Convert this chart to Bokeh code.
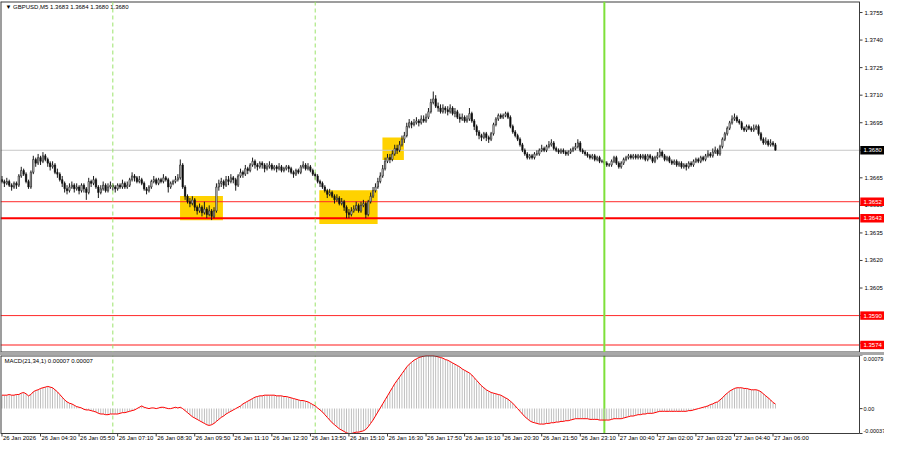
from bokeh.plotting import figure
from bokeh.layouts import column
from bokeh.models import ColumnDataSource, Span, Spacer, Range1d
from bokeh.core.properties import value
from bokeh.embed import file_html
from bokeh.resources import INLINE

# ---------------- data (GBPUSD M5, prices as pips above 1.3600) ----------------
BASE = 1.3600
PIP = 0.0001
first_open_pips = 64

close_pips = [
    63, 62, 63, 61, 60, 62, 61, 66, 69, 67,
    63, 60, 68, 75, 73, 76, 74, 77, 75, 73,
    71, 72, 68, 67, 64, 62, 59, 58, 60, 61,
    59, 60, 58, 61, 59, 57, 63, 62, 64, 60,
    57, 59, 61, 58, 60, 61, 60, 59, 61, 60,
    62, 60, 61, 64, 66, 65, 63, 64, 62, 59,
    58, 60, 63, 64, 62, 64, 63, 65, 64, 60,
    62, 63, 64, 65, 72, 60, 55, 52, 51, 53,
    49, 47, 49, 46, 48, 45, 47, 44, 47, 60,
    62, 63, 61, 64, 63, 65, 64, 61, 66, 68,
    67, 70, 69, 72, 74, 72, 71, 73, 72, 70,
    71, 72, 70, 71, 70, 71, 69, 70, 71, 70,
    68, 67, 69, 68, 71, 72, 70, 71, 69, 67,
    66, 63, 62, 60, 58, 56, 57, 55, 53, 54,
    51, 52, 49, 46, 45, 47, 48, 50, 47, 50,
    51, 45, 52, 55, 58, 60, 63, 66, 70, 74,
    76, 75, 78, 81, 80, 83, 86, 88, 93, 95,
    94, 95, 96, 95, 97, 96, 98, 101, 106, 108,
    104, 103, 101, 103, 102, 101, 103, 100, 101, 98,
    97, 98, 96, 97, 100, 96, 93, 90, 88, 87,
    89, 87, 86, 89, 94, 97, 99, 98, 99, 100,
    98, 93, 90, 88, 86, 83, 80, 78, 76, 77,
    76, 78, 78, 80, 81, 80, 82, 83, 84, 81,
    80, 79, 80, 79, 78, 79, 80, 81, 82, 84,
    80, 79, 78, 77, 76, 77, 75, 76, 74, 74,
    73, 72, 72, 74, 76, 73, 71, 73, 75, 76,
    77, 76, 77, 76, 77, 76, 77, 75, 77, 76,
    74, 76, 77, 79, 77, 75, 76, 74, 73, 74,
    72, 73, 71, 72, 71, 73, 72, 74, 75, 74,
    76, 75, 77, 78, 77, 79, 80, 78, 82, 86,
    89, 92, 95, 97, 98, 96, 95, 92, 91, 93,
    92, 91, 92, 93, 89, 86, 84, 85, 83, 84,
    83, 80,
]

high_pips = [
    66, 64, 65, 64, 62, 63, 63, 67, 71, 70,
    68, 64, 69, 77, 76, 78, 77, 79, 78, 76,
    74, 74, 73, 70, 68, 66, 63, 61, 62, 63,
    62, 62, 61, 62, 62, 60, 65, 64, 66, 65,
    61, 61, 63, 62, 62, 63, 62, 61, 62, 62,
    64, 63, 63, 65, 68, 67, 66, 66, 65, 63,
    60, 61, 64, 66, 65, 65, 65, 67, 66, 65,
    63, 64, 66, 67, 75, 73, 61, 56, 54, 55,
    54, 50, 51, 50, 52, 49, 50, 48, 49, 62,
    64, 65, 64, 66, 66, 67, 66, 65, 67, 70,
    69, 72, 71, 73, 76, 75, 73, 74, 74, 73,
    73, 74, 73, 72, 72, 73, 72, 71, 72, 72,
    71, 69, 70, 70, 72, 74, 73, 73, 72, 70,
    68, 67, 64, 63, 61, 59, 59, 58, 56, 56,
    55, 54, 53, 50, 48, 49, 50, 52, 51, 52,
    53, 52, 53, 57, 60, 62, 65, 68, 72, 76,
    78, 78, 80, 83, 83, 85, 88, 90, 95, 97,
    96, 97, 98, 97, 99, 99, 100, 103, 108, 112,
    110, 106, 105, 105, 104, 104, 105, 104, 103, 102,
    100, 100, 99, 99, 103, 101, 97, 94, 91, 89,
    90, 90, 88, 90, 95, 98, 100, 100, 100, 101,
    101, 99, 94, 91, 89, 87, 84, 81, 79, 78,
    78, 79, 80, 81, 83, 82, 83, 85, 86, 85,
    82, 81, 81, 81, 80, 80, 81, 82, 84, 86,
    85, 81, 80, 79, 78, 78, 78, 77, 77, 75,
    75, 74, 73, 75, 77, 77, 74, 74, 76, 77,
    78, 78, 78, 78, 78, 78, 78, 78, 78, 78,
    77, 77, 79, 81, 80, 78, 77, 77, 75, 75,
    75, 74, 74, 73, 73, 74, 74, 75, 76, 76,
    77, 77, 78, 80, 79, 81, 82, 81, 83, 87,
    90, 93, 96, 99, 100, 99, 97, 96, 93, 94,
    94, 93, 94, 94, 94, 90, 87, 87, 86, 86,
    85, 84,
]

low_pips = [
    62, 60, 61, 60, 58, 59, 59, 60, 65, 66,
    62, 59, 59, 67, 71, 72, 72, 73, 74, 71,
    69, 70, 67, 65, 63, 60, 57, 56, 57, 59,
    57, 58, 56, 57, 57, 53, 56, 60, 61, 59,
    54, 56, 58, 57, 57, 59, 58, 57, 58, 59,
    59, 59, 59, 60, 63, 63, 62, 62, 61, 58,
    56, 57, 59, 62, 61, 61, 62, 62, 63, 57,
    59, 61, 62, 63, 64, 59, 53, 51, 49, 50,
    47, 45, 46, 44, 45, 43, 44, 42, 43, 46,
    58, 60, 59, 60, 61, 62, 62, 58, 60, 65,
    65, 66, 67, 68, 71, 70, 69, 70, 70, 68,
    69, 70, 69, 69, 68, 69, 68, 68, 69, 68,
    67, 65, 66, 67, 67, 70, 69, 69, 68, 66,
    64, 62, 60, 59, 57, 54, 55, 54, 51, 52,
    50, 50, 47, 43, 43, 44, 46, 47, 46, 46,
    49, 43, 44, 51, 54, 57, 59, 62, 65, 69,
    73, 73, 74, 77, 78, 79, 82, 84, 87, 92,
    92, 93, 94, 93, 94, 95, 95, 97, 100, 105,
    103, 101, 100, 100, 100, 99, 100, 99, 98, 97,
    95, 96, 95, 95, 96, 95, 91, 88, 86, 85,
    86, 85, 84, 85, 88, 93, 96, 97, 97, 98,
    97, 92, 89, 87, 85, 82, 79, 77, 75, 75,
    75, 75, 77, 77, 79, 79, 79, 81, 82, 80,
    79, 78, 78, 78, 77, 77, 78, 79, 80, 81,
    79, 78, 77, 76, 75, 75, 74, 74, 73, 73,
    72, 71, 71, 71, 73, 72, 70, 70, 72, 74,
    75, 75, 75, 75, 75, 75, 75, 74, 74, 75,
    73, 73, 75, 76, 76, 74, 74, 73, 72, 72,
    71, 71, 70, 70, 69, 70, 71, 71, 73, 73,
    73, 74, 74, 76, 76, 76, 78, 77, 77, 81,
    85, 88, 91, 94, 96, 95, 94, 91, 90, 90,
    91, 90, 90, 91, 88, 85, 83, 83, 82, 82,
    82, 80,
]

# MACD(21,34,1) main value, in units of 0.00001
macd_e5 = [
    20, 20, 20, 21, 20, 20, 21, 21, 23, 24,
    22, 19, 21, 25, 27, 28, 30, 31, 32, 33,
    32, 31, 28, 25, 21, 17, 13, 10, 8, 7,
    5, 3, 2, 1, -1, -2, -2, -3, -4, -5,
    -7, -8, -8, -9, -9, -8, -8, -8, -8, -7,
    -6, -6, -5, -4, -3, -2, 0, 2, 4, 2,
    1, 0, 1, 1, 0, 1, 2, 2, 1, 0,
    0, 1, 2, 1, 2, 0, -3, -6, -9, -12,
    -14, -16, -18, -20, -22, -24, -25, -24, -22, -19,
    -16, -13, -11, -8, -6, -4, -2, 0, 2, 4,
    7, 9, 11, 13, 15, 17, 18, 19, 19, 20,
    20, 20, 20, 20, 19, 19, 19, 18, 18, 17,
    16, 15, 14, 13, 12, 12, 11, 10, 8, 6,
    4, 1, -2, -5, -9, -13, -17, -21, -24, -27,
    -30, -32, -34, -36, -37, -37, -36, -35, -35, -34,
    -33, -31, -27, -22, -17, -11, -5, 1, 7, 13,
    19, 25, 31, 37, 42, 47, 52, 57, 62, 66,
    69, 72, 74, 76, 77, 78, 79, 79, 79, 79,
    78, 77, 76, 75, 73, 72, 70, 68, 66, 64,
    62, 59, 57, 55, 53, 50, 46, 42, 38, 34,
    31, 28, 26, 24, 23, 22, 21, 20, 18, 16,
    14, 11, 8, 4, 0, -4, -8, -12, -15, -18,
    -20, -21, -22, -23, -23, -23, -22, -22, -21, -21,
    -20, -20, -19, -19, -18, -18, -17, -16, -15, -15,
    -15, -15, -15, -15, -16, -16, -16, -16, -17, -17,
    -17, -17, -17, -16, -15, -15, -15, -15, -14, -13,
    -12, -11, -11, -10, -9, -9, -8, -8, -7, -7,
    -7, -6, -5, -4, -4, -4, -4, -4, -4, -4,
    -4, -4, -4, -4, -4, -3, -3, -2, -1, 0,
    1, 2, 3, 4, 6, 7, 9, 10, 13, 16,
    20, 23, 26, 28, 30, 31, 31, 31, 30, 30,
    29, 28, 28, 28, 27, 25, 22, 19, 16, 13,
    9, 7,
]

time_tick_bars = [0, 16, 32, 48, 64, 80, 96, 112, 128, 144, 160,
                  176, 192, 208, 224, 240, 256, 272, 288, 304, 320]
time_tick_labels = ["26 Jan 2026", "26 Jan 04:30", "26 Jan 05:50", "26 Jan 07:10",
                    "26 Jan 08:30", "26 Jan 09:50", "26 Jan 11:10", "26 Jan 12:30",
                    "26 Jan 13:50", "26 Jan 15:10", "26 Jan 16:30", "26 Jan 17:50",
                    "26 Jan 19:10", "26 Jan 20:30", "26 Jan 21:50", "26 Jan 23:10",
                    "27 Jan 00:40", "27 Jan 02:00", "27 Jan 03:20", "27 Jan 04:40",
                    "27 Jan 06:00"]

price_ticks = [1.3755, 1.3740, 1.3725, 1.3710, 1.3695, 1.3680, 1.3665,
               1.3650, 1.3635, 1.3620, 1.3605, 1.3590, 1.3575]
price_tick_labels = ["1.3755", "1.3740", "1.3725", "1.3710", "1.3695", "1.3680", "1.3665",
                     "1.3650", "1.3635", "1.3620", "1.3605", "1.3590", "1.3575"]

current_price = 1.3680
current_label = "1.3680"
level_prices = [1.3652, 1.3643, 1.3590, 1.3574]
level_labels = ["1.3652", "1.3643", "1.3590", "1.3574"]

zone_start_bar = [73.9, 131.7, 157.9]
zone_end_bar = [91.7, 155.9, 166.8]
zone_low = [1.36419, 1.36398, 1.36747]
zone_high = [1.36551, 1.36583, 1.36869]

session_bars = [46, 130]
day_bar = 250

macd_max = 0.00079
macd_min = -0.00037
macd_ticks = [0.00079, 0.0, -0.00037]
macd_tick_labels = ["0.00079", "0.00", "-0.00037"]

header_text = "\u25bc GBPUSD,M5  1.3683 1.3684 1.3680 1.3680"
macd_header = "MACD(21,34,1) 0.00007 0.00007"

# ---------------- derived ----------------
n = len(close_pips)
assert len(high_pips) == n and len(low_pips) == n and len(macd_e5) == n
idx = list(range(n))
open_pips = [first_open_pips] + close_pips[:-1]
o = [BASE + v * PIP for v in open_pips]
c = [BASE + v * PIP for v in close_pips]
h = [BASE + max(v, a, b) * PIP for v, a, b in zip(high_pips, open_pips, close_pips)]
l = [BASE + min(v, a, b) * PIP for v, a, b in zip(low_pips, open_pips, close_pips)]
top = [max(a, b) for a, b in zip(o, c)]
bot = [min(a, b) for a, b in zip(o, c)]
fill = ["white" if b > a else "black" for a, b in zip(o, c)]
macd = [v * 1e-5 for v in macd_e5]

# ---------------- geometry / style ----------------
FONT = value("Liberation Sans")
FS = "6px"
W = 884
CHART_PX = 859          # right border of the chart area, px from the left
S = 2.4095              # px per bar
XMIN = -1.48 / S
XCHART = XMIN + CHART_PX / S
XEND = XMIN + W / S
BORDER = "#3c3c3c"

MAIN_H = 351
PMIN, PMAX = 1.35699, 1.37610
PPX = (PMAX - PMIN) / MAIN_H      # price per px

MACD_CH = 78
MACD_LAB = 11
UPX = (macd_max - macd_min) / MACD_CH
MBOT = macd_min - MACD_LAB * UPX


def base_fig(height, yr, top_border):
    f = figure(width=W, height=height, x_range=Range1d(XMIN, XEND), y_range=yr,
               output_backend="svg", toolbar_location=None,
               x_axis_location=None, y_axis_location=None,
               min_border_left=0, min_border_right=0, min_border_top=top_border,
               min_border_bottom=0)
    f.grid.visible = False
    f.outline_line_color = None
    f.background_fill_color = "white"
    f.border_fill_color = "white"
    return f


# ---------------- main price panel ----------------
p = base_fig(MAIN_H + 1, Range1d(PMIN, PMAX), 1)

# yellow signal zones
p.quad(left=zone_start_bar, right=zone_end_bar, bottom=zone_low, top=zone_high,
       fill_color="#ffd200", line_color=None)

# horizontal levels (stop at the chart's right border)
p.segment(x0=XMIN, x1=XCHART, y0=current_price, y1=current_price, line_color="#c8c8c8", line_width=1)
level_widths = [1, 2, 1, 2]
level_colors = ["#ff2a2a", "#ff0000", "#ff2a2a", "#ff8c8c"]
p.segment(x0=[XMIN] * len(level_prices), x1=[XCHART] * len(level_prices),
          y0=level_prices, y1=level_prices, line_color=level_colors, line_width=level_widths)

# session / day separators
for sb in session_bars:
    p.add_layout(Span(location=sb, dimension="height", line_color="#9be36b",
                      line_width=1, line_dash="4 3"))
p.add_layout(Span(location=day_bar, dimension="height", line_color="#7ee03a", line_width=2))

# candles
src = ColumnDataSource(dict(x=idx, o=o, c=c, h=h, l=l, top=top, bot=bot, fill=fill))
p.segment(x0="x", y0="l", x1="x", y1="h", source=src, line_color="#1a1a1a", line_width=1)
p.vbar(x="x", top="top", bottom="bot", width=0.55, source=src,
       fill_color="fill", line_color="#1a1a1a", line_width=0.7)

# chart frame
p.segment(x0=[XMIN, XMIN, XMIN, XCHART], x1=[XCHART, XCHART, XMIN, XCHART],
          y0=[PMAX, PMIN, PMIN, PMIN], y1=[PMAX, PMIN, PMAX, PMAX],
          line_color=BORDER, line_width=[2, 2, 2, 1])

# right price scale: tick marks and labels
p.segment(x0=XCHART, x1=XCHART + 3 / S, y0=price_ticks, y1=price_ticks,
          line_color=BORDER, line_width=1)
p.text(x=XCHART, y=price_ticks, text=price_tick_labels, x_offset=5,
       text_font=FONT, text_font_size=FS, text_color="black",
       text_align="left", text_baseline="middle")

# price boxes
box_h = 4.2 * PPX
p.quad(left=XCHART + 0.8 / S, right=XEND, bottom=current_price - box_h,
       top=current_price + box_h, fill_color="black", line_color=None)
p.quad(left=[XCHART + 0.8 / S] * len(level_prices), right=[XEND] * len(level_prices),
       bottom=[v - box_h for v in level_prices], top=[v + box_h for v in level_prices],
       fill_color="#ff0000", line_color=None)
p.text(x=[XCHART] * (len(level_prices) + 1), y=[current_price] + level_prices,
       text=[current_label] + level_labels, x_offset=4,
       text_font=FONT, text_font_size=FS, text_color="white",
       text_align="left", text_baseline="middle")

# header
p.text(x=[XMIN], y=[PMAX - 2 * PPX], text=[header_text], x_offset=5,
       text_font=FONT, text_font_size=FS, text_color="black",
       text_align="left", text_baseline="top")

# ---------------- separator ----------------
sep = Spacer(width=W, height=3, styles={"background-color": "#a8a8a8"})

# ---------------- MACD panel ----------------
m = base_fig(MACD_CH + MACD_LAB, Range1d(MBOT, macd_max), 0)

for sb in session_bars:
    m.segment(x0=sb, x1=sb, y0=macd_min, y1=macd_max, line_color="#9be36b",
              line_width=1, line_dash="4 3")
m.segment(x0=day_bar, x1=day_bar, y0=macd_min, y1=macd_max, line_color="#7ee03a", line_width=2)

m.vbar(x=idx, top=macd, bottom=0, width=0.35, fill_color="#b4b4b4", line_color=None)
m.line(idx, macd, line_color="#ff0000", line_width=1)

# frame
m.segment(x0=[XMIN, XMIN, XMIN, XCHART], x1=[XCHART, XCHART, XMIN, XCHART],
          y0=[macd_max, macd_min, macd_min, macd_min], y1=[macd_max, macd_min, macd_max, macd_max],
          line_color=BORDER, line_width=[2, 1, 2, 1])

# right scale
m.segment(x0=XCHART, x1=XCHART + 3 / S, y0=macd_ticks, y1=macd_ticks,
          line_color=BORDER, line_width=1)
m.text(x=[XCHART] * 3, y=[macd_max - 1.5 * UPX, 0.0, macd_min + 1 * UPX],
       text=macd_tick_labels, x_offset=4,
       text_font=FONT, text_font_size="5.5px", text_color="black",
       text_align="left", text_baseline=["top", "middle", "bottom"])

# time scale
m.segment(x0=time_tick_bars, x1=time_tick_bars, y0=macd_min, y1=macd_min - 3 * UPX,
          line_color=BORDER, line_width=1)
m.text(x=time_tick_bars, y=macd_min - 1.5 * UPX, text=time_tick_labels, x_offset=1,
       text_font=FONT, text_font_size=FS, text_color="black",
       text_align="left", text_baseline="top")

# header
m.text(x=[XMIN], y=[macd_max - 2 * UPX], text=[macd_header], x_offset=4,
       text_font=FONT, text_font_size=FS, text_color="black",
       text_align="left", text_baseline="top")

layout = column(p, sep, m, spacing=0)
open("out.html", "w").write(file_html(layout, INLINE))
